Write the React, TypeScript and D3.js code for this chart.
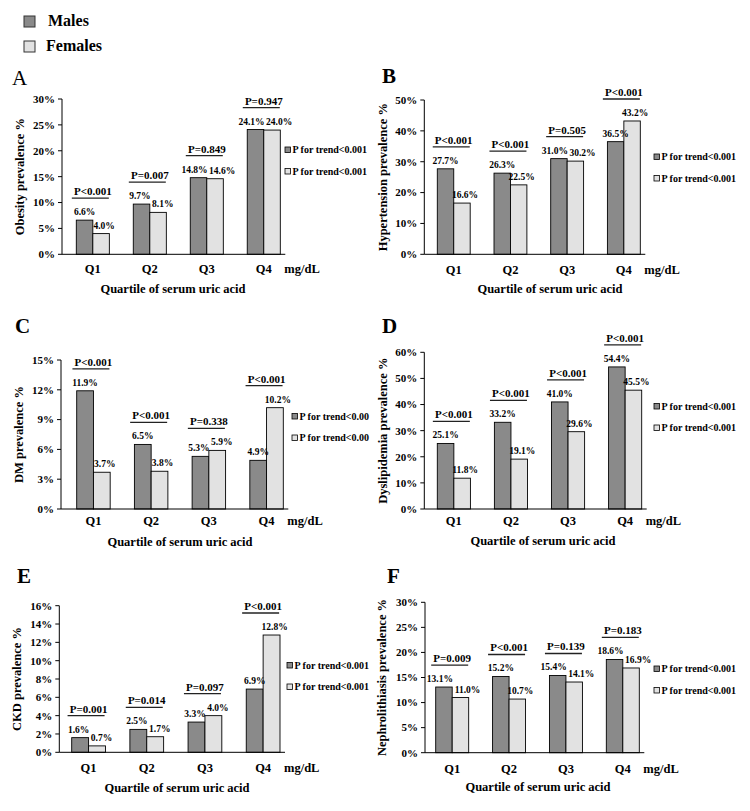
import React from 'react';
import * as d3 from 'd3';

const categories = ['Q1', 'Q2', 'Q3', 'Q4'];
const seriesNames = ['Males', 'Females'];

const obesityMales = [6.6, 9.7, 14.8, 24.1];
const obesityFemales = [4.0, 8.1, 14.6, 24.0];
const obesityP = ['P<0.001', 'P=0.007', 'P=0.849', 'P=0.947'];

const hypertensionMales = [27.7, 26.3, 31.0, 36.5];
const hypertensionFemales = [16.6, 22.5, 30.2, 43.2];
const hypertensionP = ['P<0.001', 'P<0.001', 'P=0.505', 'P<0.001'];

const dmMales = [11.9, 6.5, 5.3, 4.9];
const dmFemales = [3.7, 3.8, 5.9, 10.2];
const dmP = ['P<0.001', 'P<0.001', 'P=0.338', 'P<0.001'];

const dyslipidemiaMales = [25.1, 33.2, 41.0, 54.4];
const dyslipidemiaFemales = [11.8, 19.1, 29.6, 45.5];
const dyslipidemiaP = ['P<0.001', 'P<0.001', 'P<0.001', 'P<0.001'];

const ckdMales = [1.6, 2.5, 3.3, 6.9];
const ckdFemales = [0.7, 1.7, 4.0, 12.8];
const ckdP = ['P=0.001', 'P=0.014', 'P=0.097', 'P<0.001'];

const nephroMales = [13.1, 15.2, 15.4, 18.6];
const nephroFemales = [11.0, 10.7, 14.1, 16.9];
const nephroP = ['P=0.009', 'P<0.001', 'P=0.139', 'P=0.183'];

const trendFull = ['P for trend<0.001', 'P for trend<0.001'];
const trendCut = ['P for trend<0.00', 'P for trend<0.00'];

const panelLetters = ['A', 'B', 'C', 'D', 'E', 'F'];
const yTitles = [
  'Obesity prevalence %',
  'Hypertension prevalence %',
  'DM prevalence %',
  'Dyslipidemia prevalence %',
  'CKD prevalence %',
  'Nephrolithiasis prevalence %',
];
const yMaxes = [30, 50, 15, 60, 16, 30];
const yStepsArr = [5, 10, 3, 10, 2, 5];
const xTitle = 'Quartile of serum uric acid';
const unitLabel = 'mg/dL';

const panelData = [
  { m: obesityMales, f: obesityFemales, p: obesityP, t: trendFull },
  { m: hypertensionMales, f: hypertensionFemales, p: hypertensionP, t: trendFull },
  { m: dmMales, f: dmFemales, p: dmP, t: trendCut },
  { m: dyslipidemiaMales, f: dyslipidemiaFemales, p: dyslipidemiaP, t: trendFull },
  { m: ckdMales, f: ckdFemales, p: ckdP, t: trendFull },
  { m: nephroMales, f: nephroFemales, p: nephroP, t: trendFull },
];

// layout (positions only)
const layouts = [
  { axisX: 62, bandStart: 76.3, bandEnd: 280.3, yTop: 99, yBottom: 254.3, letterX: 12, letterY: 85, letterBold: false, yTitleX: 20, xTitleX: 173, qDy: 19, tDy: 38.5, legX: 285, legY: 147 },
  { axisX: 424.3, bandStart: 437.3, bandEnd: 640.3, yTop: 100, yBottom: 254.3, letterX: 382, letterY: 83, letterBold: true, yTitleX: 383, xTitleX: 550, qDy: 19.5, tDy: 39, legX: 654, legY: 154 },
  { axisX: 61, bandStart: 76.7, bandEnd: 283.3, yTop: 360, yBottom: 509, letterX: 15, letterY: 333, letterBold: true, yTitleX: 19, xTitleX: 180, qDy: 16, tDy: 36.5, legX: 292, legY: 413.5 },
  { axisX: 424.3, bandStart: 437.3, bandEnd: 641.7, yTop: 352.3, yBottom: 509, letterX: 382, letterY: 333, letterBold: true, yTitleX: 383, xTitleX: 543, qDy: 16, tDy: 36, legX: 654, legY: 403.5 },
  { axisX: 59.3, bandStart: 71.7, bandEnd: 280, yTop: 605.7, yBottom: 752.3, letterX: 17, letterY: 583, letterBold: true, yTitleX: 17, xTitleX: 177, qDy: 19.4, tDy: 39.4, legX: 287, legY: 662.5 },
  { axisX: 425, bandStart: 435.7, bandEnd: 639.3, yTop: 602.3, yBottom: 752.7, letterX: 387, letterY: 583, letterBold: true, yTitleX: 381.5, xTitleX: 538, qDy: 20, tDy: 38.3, legX: 654, legY: 666 },
];

const FONT = '"Liberation Serif", "Times New Roman", serif';
const MALE = '#8a8a8a';
const FEMALE = '#e2e2e2';
const colors = [MALE, FEMALE];
const VAL_FS = 9.5;

function textWidth(s: string, fs: number) {
  let w = 0;
  for (const ch of s) {
    if (ch === '.') w += 0.25;
    else if (ch === '%') w += 1.0;
    else w += 0.5;
  }
  return w * fs;
}

function Panel({ idx }: { idx: number }) {
  const L = layouts[idx];
  const D = panelData[idx];
  const yMax = yMaxes[idx];
  const yStep = yStepsArr[idx];
  const y = d3.scaleLinear().domain([0, yMax]).range([L.yBottom, L.yTop]);
  const x = d3.scaleBand<string>().domain(categories).range([L.bandStart, L.bandEnd]).paddingInner(0.42);
  const xs = d3.scaleBand<string>().domain(seriesNames).range([0, x.bandwidth()]);
  const ticks = d3.range(0, yMax + yStep / 2, yStep);
  const fmt = (v: number) => v.toFixed(1) + '%';
  const axisEnd = L.bandEnd + 5;
  const yc = (L.yTop + L.yBottom) / 2;
  return (
    <g fontFamily={FONT} fontWeight="bold">
      <text x={L.letterX} y={L.letterY} fontSize={21} fontWeight={L.letterBold ? 'bold' : 'normal'}>
        {panelLetters[idx]}
      </text>
      {/* y axis */}
      <line x1={L.axisX} x2={L.axisX} y1={L.yTop} y2={L.yBottom} stroke="#000" strokeWidth={1} />
      {ticks.map((t) => (
        <g key={t}>
          <line x1={L.axisX - 4} x2={L.axisX} y1={y(t)} y2={y(t)} stroke="#000" strokeWidth={1} />
          <text x={L.axisX - 7} y={y(t)} dy="0.35em" textAnchor="end" fontSize={11}>
            {t + '%'}
          </text>
        </g>
      ))}
      <text
        transform={`translate(${L.yTitleX},${yc}) rotate(-90)`}
        textAnchor="middle"
        dominantBaseline="central"
        fontSize={12.5}
      >
        {yTitles[idx]}
      </text>
      {/* bars */}
      {categories.map((c, i) => {
        const vals = [D.m[i], D.f[i]];
        const gx = x(c) as number;
        const topMax = y(Math.max(vals[0], vals[1]));
        const cx = gx + x.bandwidth() / 2;
        const lineY = topMax - 22;
        // label placement
        const labels = vals.map((v, s) => {
          const bx = gx + (xs(seriesNames[s]) as number);
          return {
            text: fmt(v),
            x: bx + xs.bandwidth() / 2 + (s === 1 ? 3 : 0),
            y: y(v) - 5,
            w: textWidth(fmt(v), VAL_FS),
          };
        });
        if (Math.abs(labels[0].y - labels[1].y) < 11) {
          const need = (labels[0].w + labels[1].w) / 2 + 1.5;
          const have = labels[1].x - labels[0].x;
          if (have < need) {
            const d = (need - have) / 2;
            labels[0].x -= d;
            labels[1].x += d;
          }
        }
        return (
          <g key={c}>
            {vals.map((v, s) => {
              const bx = gx + (xs(seriesNames[s]) as number);
              return (
                <rect
                  key={s}
                  x={bx}
                  y={y(v)}
                  width={xs.bandwidth()}
                  height={L.yBottom - y(v)}
                  fill={colors[s]}
                  stroke="#000"
                  strokeWidth={0.9}
                />
              );
            })}
            {labels.map((lb, s) => (
              <text key={'l' + s} x={lb.x} y={lb.y} textAnchor="middle" fontSize={VAL_FS}>
                {lb.text}
              </text>
            ))}
            <line x1={cx - 21} x2={cx + 16} y1={lineY} y2={lineY} stroke="#222" strokeWidth={1.3} />
            <text x={cx} y={lineY - 3} textAnchor="middle" fontSize={11}>
              {D.p[i]}
            </text>
            <text x={cx} y={L.yBottom + L.qDy} textAnchor="middle" fontSize={12.5}>
              {c}
            </text>
          </g>
        );
      })}
      {/* x axis */}
      <line x1={L.axisX} x2={axisEnd} y1={L.yBottom} y2={L.yBottom} stroke="#000" strokeWidth={1} />
      <text x={L.bandEnd + 4} y={L.yBottom + L.qDy} fontSize={12.5}>
        {unitLabel}
      </text>
      <text x={L.xTitleX} y={L.yBottom + L.tDy} textAnchor="middle" fontSize={12.5}>
        {xTitle}
      </text>
      {/* in-panel legend */}
      {D.t.map((t, s) => (
        <g key={s}>
          <rect x={L.legX} y={L.legY + s * 21.5} width={5.5} height={5.5} fill={colors[s]} stroke="#000" strokeWidth={0.8} />
          <text x={L.legX + 7.5} y={L.legY + s * 21.5 + 6} fontSize={10}>
            {t}
          </text>
        </g>
      ))}
    </g>
  );
}

export default function App() {
  return (
    <div style={{ position: 'absolute', left: 0, top: 0 }}>
      <svg width={750} height={811} style={{ display: 'block', background: '#fff' }}>
        <g fontFamily={FONT} fontWeight="bold">
          {seriesNames.map((s, i) => (
            <g key={s}>
              <rect x={24} y={16 + i * 25} width={11} height={11} fill={colors[i]} stroke="#333" strokeWidth={1} />
              <text x={i === 0 ? 48 : 46} y={25.5 + i * 25} fontSize={16}>
                {s}
              </text>
            </g>
          ))}
        </g>
        {panelLetters.map((_, i) => (
          <Panel key={i} idx={i} />
        ))}
      </svg>
    </div>
  );
}
